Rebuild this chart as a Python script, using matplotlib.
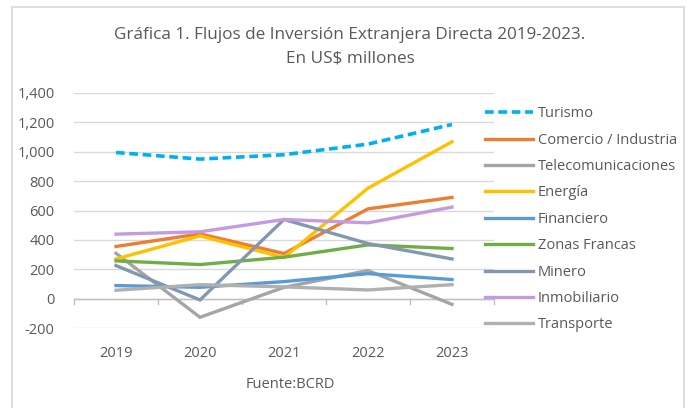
import matplotlib
matplotlib.use("Agg")
import matplotlib.pyplot as plt
from matplotlib.patches import Rectangle

years = ["2019", "2020", "2021", "2022", "2023"]
turismo = [995, 950, 980, 1052, 1186]
comercio = [355, 441, 307, 611, 689]
telecom = [309, -127, 77, 191, -39]
energia = [270, 427, 280, 752, 1068]
financiero = [89, 77, 116, 170, 130]
zonas = [257, 232, 282, 366, 341]
minero = [225, -9, 539, 375, 270]
inmobiliario = [439, 455, 539, 516, 623]
transporte = [57, 95, 80, 59, 95]

series = [
    ("Turismo", turismo, "#00B0F0", "--"),
    ("Comercio / Industria", comercio, "#ED7D31", "-"),
    ("Telecomunicaciones", telecom, "#A5A5A5", "-"),
    ("Energía", energia, "#FFC000", "-"),
    ("Financiero", financiero, "#5B9BD5", "-"),
    ("Zonas Francas", zonas, "#70AD47", "-"),
    ("Minero", minero, "#8497B0", "-"),
    ("Inmobiliario", inmobiliario, "#C39BE3", "-"),
    ("Transporte", transporte, "#B0B0B0", "-"),
]

W, H = 694, 408
fig = plt.figure(figsize=(W / 100, H / 100), dpi=100)
plt.rcParams['font.family'] = ['Open Sans', 'DejaVu Sans']
txt = "#595959"

# chart border
fig.add_artist(Rectangle((12 / W, -0.1), (684 - 12) / W, 1.1 - 7 / H,
                         transform=fig.transFigure, fill=False,
                         edgecolor="#D9D9D9", linewidth=1.2))

left, right = 74 / W, 494 / W
top, bottom = 1 - 93 / H, 1 - 328 / H
ax = fig.add_axes([left, bottom, right - left, top - bottom])

x = list(range(len(years)))
handles = []
for name, vals, color, ls in series:
    if ls == "--":
        h, = ax.plot(x, vals, color=color, lw=2.6, ls=(0, (2.4, 1.3)),
                     label=name, solid_capstyle="butt", dash_capstyle="butt")
    else:
        h, = ax.plot(x, vals, color=color, lw=2.4, label=name,
                     solid_joinstyle="miter")
    handles.append(h)

ax.set_xlim(-0.5, 4.5)
ax.set_ylim(-200, 1400)
ax.set_yticks(range(-200, 1401, 200))
ax.set_yticklabels([f"{v:,}" for v in range(-200, 1401, 200)])
ax.yaxis.grid(True, color="#D9D9D9", lw=1)
ax.set_axisbelow(True)
for s in ax.spines.values():
    s.set_visible(False)
ax.tick_params(axis="y", length=0, labelsize=10.5, labelcolor=txt, pad=14)
ax.set_xticks(x)
ax.set_xticklabels(years)
ax.tick_params(axis="x", length=0, labelsize=10.5, labelcolor=txt, pad=13)

# category axis at zero with separators
ax.axhline(0, color="#BFBFBF", lw=1, zorder=1)
for b in [-0.5, 0.5, 1.5, 2.5, 3.5, 4.5]:
    ax.plot([b, b], [0, -35], color="#BFBFBF", lw=1, zorder=1, clip_on=False)

fig.text(350 / W, 1 - 35 / H, "Gráfica 1. Flujos de Inversión Extranjera Directa 2019-2023.",
         ha="center", va="center", fontsize=12.3, color=txt)
fig.text(350 / W, 1 - 58 / H, "En US$ millones", ha="center", va="center",
         fontsize=12.3, color=txt)
fig.text(290 / W, 1 - 384 / H, "Fuente:BCRD", ha="center", va="center",
         fontsize=10.5, color=txt)

leg = fig.legend(handles=handles, loc="upper left",
                 bbox_to_anchor=(481 / W, 1 - 102 / H), frameon=False,
                 fontsize=10.5, labelcolor=txt, handlelength=3.3,
                 handletextpad=0.3, labelspacing=0.78, borderaxespad=0,
                 borderpad=0.3)

fig.savefig("out.png", dpi=100)
